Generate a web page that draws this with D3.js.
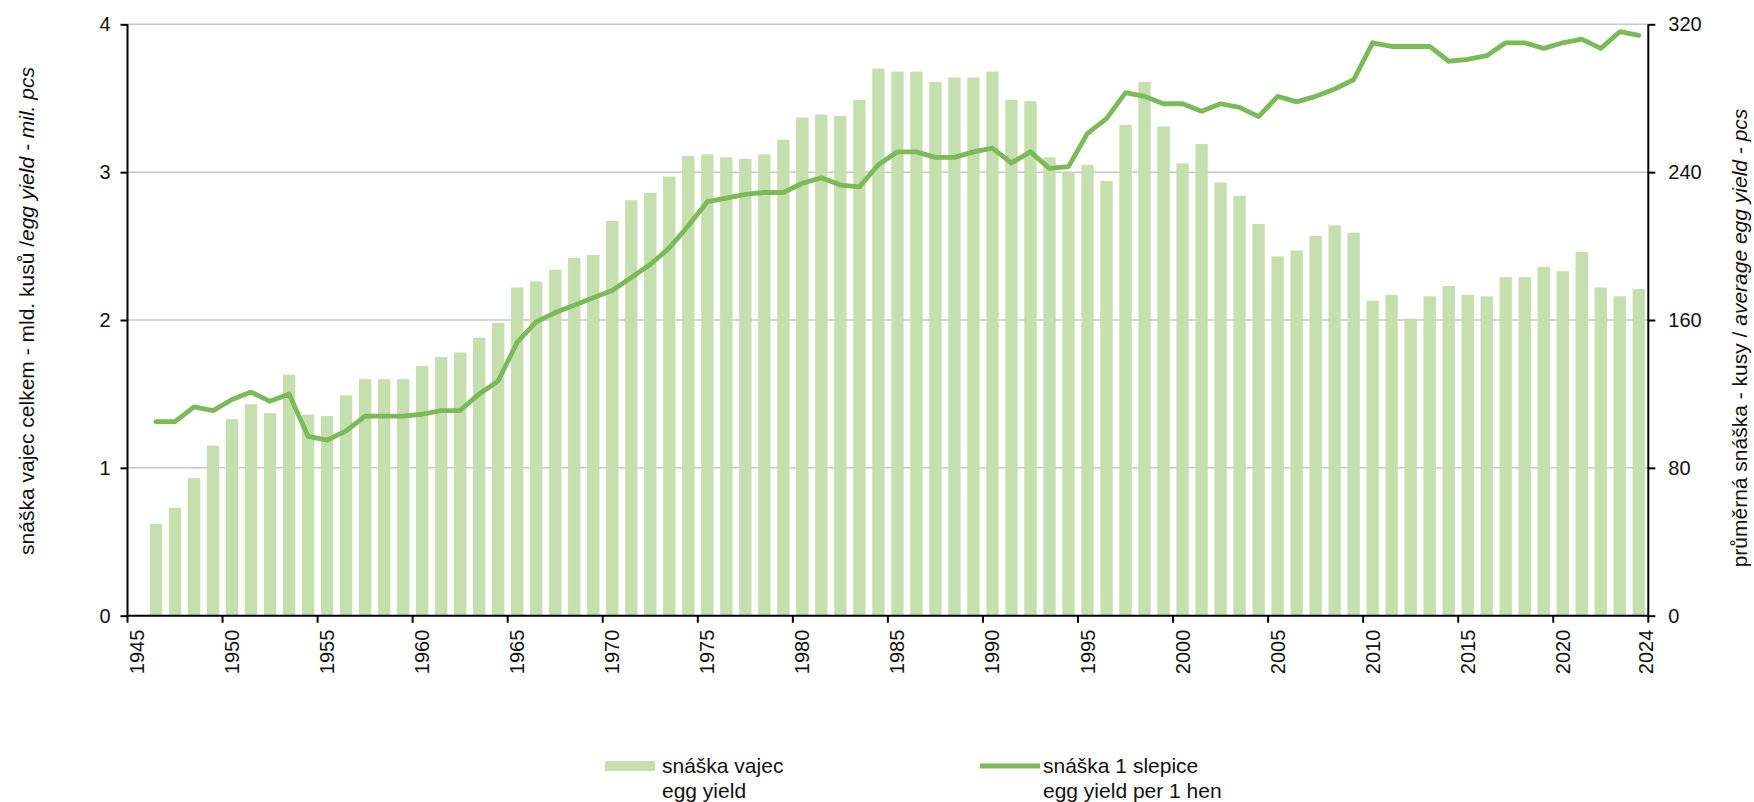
<!DOCTYPE html>
<html>
<head>
<meta charset="utf-8">
<script src="https://cdn.jsdelivr.net/npm/d3@7"></script>
<style>
  body { margin: 0; background: #fff; }
  text { font-family: "Liberation Sans", Arial, sans-serif; fill: #111; }
  .axis-title { font-size: 21px; }
  .legend-label { font-size: 21px; }
</style>
</head>
<body>
<div class="chart"></div>
<script>
// years on the category axis
const years = d3.range(1945, 2025);

// egg yield total - bn pcs (1945 without data)
const eggYield = [
  null, 0.62, 0.73, 0.93, 1.15, 1.33, 1.43, 1.37, 1.63, 1.36,
  1.35, 1.49, 1.60, 1.60, 1.60, 1.69, 1.75, 1.78, 1.88, 1.98,
  2.22, 2.26, 2.34, 2.42, 2.44, 2.67, 2.81, 2.86, 2.97, 3.11,
  3.12, 3.10, 3.09, 3.12, 3.22, 3.37, 3.39, 3.38, 3.49, 3.70,
  3.68, 3.68, 3.61, 3.64, 3.64, 3.68, 3.49, 3.48, 3.10, 3.00,
  3.05, 2.94, 3.32, 3.61, 3.31, 3.06, 3.19, 2.93, 2.84, 2.65,
  2.43, 2.47, 2.57, 2.64, 2.59, 2.13, 2.17, 2.01, 2.16, 2.23,
  2.17, 2.16, 2.29, 2.29, 2.36, 2.33, 2.46, 2.22, 2.16, 2.21
];

// average egg yield per 1 hen - pcs
const perHen = [
  null, 105, 105, 113, 111, 117, 121, 116, 120, 97,
  95, 100, 108, 108, 108, 109, 111, 111, 120, 127,
  148, 159, 164, 168, 172, 176, 183, 190, 199, 211,
  224, 226, 228, 229, 229, 234, 237, 233, 232, 244,
  251, 251, 248, 248, 251, 253, 245, 251, 242, 243,
  261, 269, 283, 281, 277, 277, 273, 277, 275, 270,
  281, 278, 281, 285, 290, 310, 308, 308, 308, 300,
  301, 303, 310, 310, 307, 310, 312, 307, 316, 314
];

// tick labels
const yearLabels = [1945, 1950, 1955, 1960, 1965, 1970, 1975, 1980, 1985, 1990,
  1995, 2000, 2005, 2010, 2015, 2020, 2024];
const leftTicks = [0, 1, 2, 3, 4];
const rightTicks = [0, 80, 160, 240, 320];

const data = years.map((y, i) => ({ year: y, eggs: eggYield[i], hen: perHen[i] }));

const width = 1754;
const height = 802;
const plotLeft = 127.5, plotRight = 1648.3, plotTop = 24.3, plotBottom = 615.7;

const barColor = '#c5dfae';
const lineColor = '#7aba57';

const svg = d3.select(".chart")
  .append("svg")
    .attr("width", width)
    .attr("height", height);

//SCALES
const x = d3.scaleBand()
  .domain(years)
  .range([plotLeft, plotRight])
  .paddingInner(0.35)
  .paddingOuter(0.175);
const step = x.step();

const yLeft = d3.scaleLinear().domain([0, 4]).range([plotBottom, plotTop]);
const yRight = d3.scaleLinear().domain([0, 320]).range([plotBottom, plotTop]);

//gridlines
svg.append("g")
  .selectAll("line")
  .data(leftTicks.slice(1))
  .enter().append("line")
    .attr("x1", plotLeft)
    .attr("x2", plotRight)
    .attr("y1", d => yLeft(d))
    .attr("y2", d => yLeft(d))
    .attr("stroke", "#c8c8c8")
    .attr("stroke-width", 1.5);

//bars
svg.append("g")
  .selectAll("rect")
  .data(data.filter(d => d.eggs != null))
  .enter().append("rect")
    .attr("x", d => x(d.year))
    .attr("y", d => yLeft(d.eggs))
    .attr("width", x.bandwidth())
    .attr("height", d => plotBottom - yLeft(d.eggs))
    .attr("fill", barColor);

//line
const line = d3.line()
  .x(d => x(d.year) + x.bandwidth() / 2)
  .y(d => yRight(d.hen));
svg.append("path")
  .datum(data.filter(d => d.hen != null))
  .attr("d", line)
  .attr("fill", "none")
  .attr("stroke", lineColor)
  .attr("stroke-width", 4.8)
  .attr("stroke-linejoin", "round")
  .attr("stroke-linecap", "round");

//left axis
const yAxisL = svg.append("g")
  .attr("transform", `translate(${plotLeft},0)`)
  .call(d3.axisLeft(yLeft).tickValues(leftTicks).tickFormat(d3.format("d")).tickSize(7).tickPadding(10));

//right axis
const yAxisR = svg.append("g")
  .attr("transform", `translate(${plotRight},0)`)
  .call(d3.axisRight(yRight).tickValues(rightTicks).tickFormat(d3.format("d")).tickSize(7).tickPadding(13));

//bottom axis: ticks between categories, last one on the right edge
const xAxis = svg.append("g")
  .attr("transform", `translate(0,${plotBottom})`)
  .call(d3.axisBottom(x).tickValues(yearLabels).tickSize(7).tickFormat(d => d));
xAxis.selectAll(".tick line")
  .attr("transform", d => d === 2024 ? `translate(${step / 2},0)` : `translate(${-step / 2},0)`);
xAxis.selectAll(".tick text")
  .attr("text-anchor", "end")
  .attr("dy", "0.35em")
  .attr("y", 0)
  .attr("x", 0)
  .attr("transform", d => `translate(${d === 2024 ? step / 2 - 2 : 0},14) rotate(-90)`);

[yAxisL, yAxisR, xAxis].forEach(a => {
  a.selectAll(".domain").attr("stroke", "#000").attr("stroke-width", 2);
  a.selectAll(".tick line").attr("stroke", "#000").attr("stroke-width", 2);
  a.selectAll("text")
    .attr("fill", "#111")
    .style("font-size", "20px")
    .style("font-family", '"Liberation Sans", Arial, sans-serif');
});
xAxis.select(".domain").attr("d", `M${plotLeft},0H${plotRight}`);
yAxisL.select(".domain").attr("d", `M0,${plotBottom}V${plotTop}`);
yAxisR.select(".domain").attr("d", `M0,${plotBottom}V${plotTop}`);

//axis titles
const tL = svg.append("text")
  .attr("class", "axis-title")
  .attr("transform", "translate(34,311) rotate(-90)")
  .attr("text-anchor", "middle");
tL.append("tspan").text("snáška vajec celkem - mld. kusů /");
tL.append("tspan").style("font-style", "italic").text("egg yield - mil. pcs");

const tR = svg.append("text")
  .attr("class", "axis-title")
  .attr("transform", "translate(1747,338) rotate(-90)")
  .attr("text-anchor", "middle");
tR.append("tspan").text("průměrná snáška - kusy / ");
tR.append("tspan").style("font-style", "italic").text("average egg yield - pcs");

//GRAPH LEGEND
svg.append("rect")
  .attr("x", 605).attr("y", 761)
  .attr("width", 50).attr("height", 10)
  .attr("fill", barColor);
svg.append("line")
  .attr("x1", 980).attr("x2", 1040)
  .attr("y1", 766).attr("y2", 766)
  .attr("stroke", lineColor)
  .attr("stroke-width", 4.8);

const legendText = [
  { x: 662, lines: ["snáška vajec", "egg yield"] },
  { x: 1043, lines: ["snáška 1 slepice", "egg yield per 1 hen"] }
];
legendText.forEach(l => {
  svg.selectAll(null)
    .data(l.lines)
    .enter().append("text")
      .attr("class", "legend-label")
      .attr("x", l.x)
      .attr("y", (d, i) => 773 + i * 25)
      .text(d => d);
});
</script>
</body>
</html>
